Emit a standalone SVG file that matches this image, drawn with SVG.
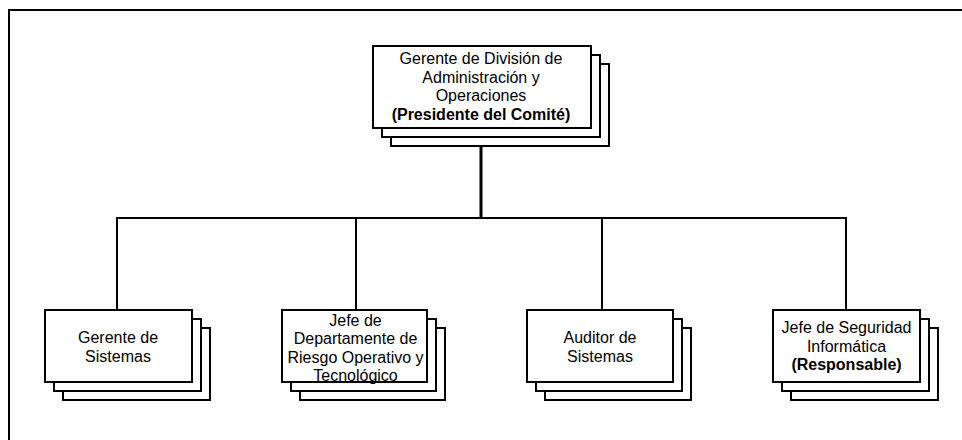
<svg xmlns="http://www.w3.org/2000/svg" width="962" height="440" viewBox="0 0 962 440">
<style>
.bx{fill:#fff;stroke:#000;stroke-width:2}
.ln{fill:none;stroke:#000;stroke-width:2}
.t{font-family:"Liberation Sans",Arial,sans-serif;font-size:16px;fill:#000;text-anchor:middle}
.b{font-weight:bold}
</style>
<rect x="0" y="0" width="962" height="440" fill="#fff"/>
<rect id="frame" x="9" y="10" width="1000" height="500" class="ln"/>
<g id="connectors">
<line x1="481" y1="145" x2="481" y2="218" stroke="#000" stroke-width="3"/>
<polyline class="ln" points="117,310 117,218 846,218 846,310"/>
<line class="ln" x1="356" y1="218" x2="356" y2="310"/>
<line class="ln" x1="602" y1="218" x2="602" y2="310"/>
</g>
<g id="top">
<rect class="bx" x="391" y="64" width="218" height="82"/>
<rect class="bx" x="382" y="55" width="218" height="82"/>
<rect class="bx" x="373" y="46" width="218" height="82"/>
<text class="t" x="481" y="64">Gerente de División de</text>
<text class="t" x="481" y="82.7">Administración y</text>
<text class="t" x="481" y="101.4">Operaciones</text>
<text class="t b" x="481" y="120">(Presidente del Comité)</text>
</g>
<g id="n1">
<rect class="bx" x="63" y="328" width="147" height="72"/>
<rect class="bx" x="54" y="319" width="147" height="72"/>
<rect class="bx" x="45" y="310" width="147" height="72"/>
<text class="t" x="118" y="343">Gerente de</text>
<text class="t" x="118" y="361.5">Sistemas</text>
</g>
<g id="n2">
<rect class="bx" x="300" y="328" width="145" height="72"/>
<rect class="bx" x="291" y="319" width="145" height="72"/>
<rect class="bx" x="282" y="310" width="145" height="72"/>
<text class="t" x="355.5" y="325.5">Jefe de</text>
<text class="t" x="355.5" y="344">Departamente de</text>
<text class="t" x="355.5" y="362.5">Riesgo Operativo y</text>
<text class="t" x="355.5" y="381">Tecnológico</text>
</g>
<g id="n3">
<rect class="bx" x="545" y="328" width="146" height="72"/>
<rect class="bx" x="536" y="319" width="146" height="72"/>
<rect class="bx" x="527" y="310" width="146" height="72"/>
<text class="t" x="600" y="343">Auditor de</text>
<text class="t" x="600" y="361.5">Sistemas</text>
</g>
<g id="n4">
<rect class="bx" x="791" y="328" width="147" height="72"/>
<rect class="bx" x="782" y="319" width="147" height="72"/>
<rect class="bx" x="773" y="310" width="147" height="72"/>
<text class="t" x="846.5" y="333">Jefe de Seguridad</text>
<text class="t" x="846.5" y="351.5">Informática</text>
<text class="t b" x="846.5" y="370">(Responsable)</text>
</g>
</svg>
